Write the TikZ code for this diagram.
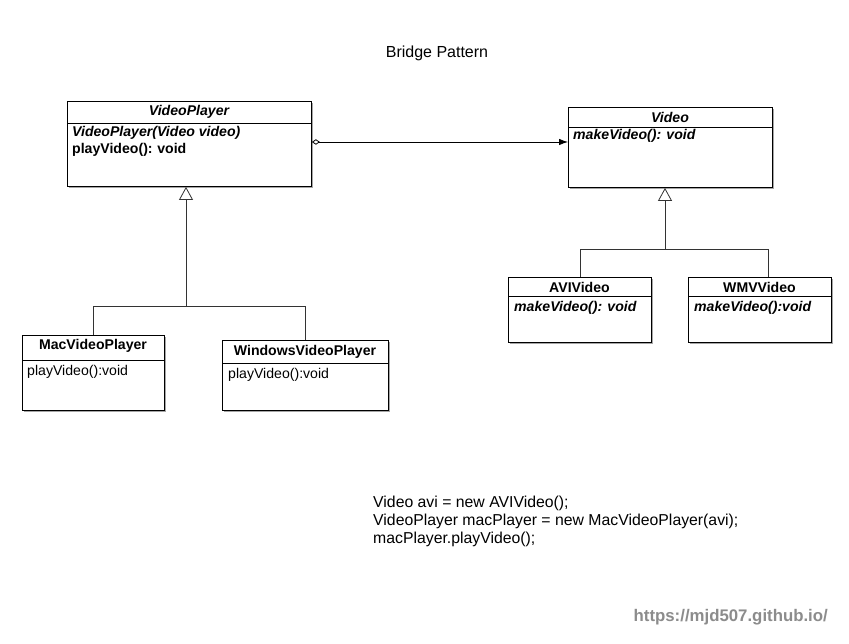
\documentclass[tikz,border=0pt]{standalone}
\usepackage{fontspec}
\setmainfont{Liberation Sans}
\usetikzlibrary{arrows.meta,shadows}
\begin{document}
\begin{tikzpicture}[x=1pt,y=-1pt,
  cls/.style={draw, line width=0.9pt, anchor=north west, inner sep=0pt, fill=white,
    drop shadow={shadow xshift=1.3pt, shadow yshift=-1.3pt, opacity=0.35, fill=black}},
  txt/.style={font=\fontsize{14.1}{16}\selectfont, inner sep=0pt},
  hdr/.style={txt, font=\fontsize{14.1}{16}\selectfont\bfseries},
  hdri/.style={txt, font=\fontsize{14.1}{16}\selectfont\bfseries\itshape},
  mem/.style={txt, anchor=west},
  memb/.style={mem, font=\fontsize{14.1}{16}\selectfont\bfseries},
  membi/.style={mem, font=\fontsize{14.1}{16}\selectfont\bfseries\itshape},
  inhline/.style={draw=black!80, line width=0.8pt},
  inh/.style={inhline, -{Triangle[open, length=13pt, width=14pt]}},
  agg/.style={draw=black, line width=0.8pt, {Diamond[open, length=8pt, width=5.5pt]}-{Latex[length=9pt, width=6.5pt]}}
]
\useasboundingbox (0,0) rectangle (849,644);
\fill[white] (0,0) rectangle (849,644);

% title
\node[font=\fontsize{16}{18}\selectfont] (title) at (437,53) {Bridge Pattern};

% VideoPlayer
\node[cls, minimum width=244pt, minimum height=85pt] (vp) at (67,101) {};
\draw[line width=0.9pt] (67,123) -- (311,123);
\node[hdri] (vpn) at (189,112) {VideoPlayer};
\node[membi] (vpm1) at (72,133) {VideoPlayer(Video video)};
\node[memb] (vpm2) at (72,150) {playVideo():\,\,void};

% Video
\node[cls, minimum width=204pt, minimum height=80pt] (vid) at (568,107) {};
\draw[line width=0.9pt] (568,127) -- (772,127);
\node[hdri] (vidn) at (670,117) {Video};
\node[membi] (vidm1) at (573,136) {makeVideo(): void};

% MacVideoPlayer
\node[cls, minimum width=142pt, minimum height=75pt] (mac) at (22,335) {};
\draw[line width=0.9pt] (22,360) -- (164,360);
\node[hdr] (macn) at (93,346) {MacVideoPlayer};
\node[mem] (macm1) at (27,372) {playVideo():void};

% WindowsVideoPlayer
\node[cls, minimum width=166pt, minimum height=70pt] (win) at (222,340) {};
\draw[line width=0.9pt] (222,363) -- (388,363);
\node[hdr] (winn) at (305,352) {WindowsVideoPlayer};
\node[mem] (winm1) at (228,375) {playVideo():void};

% AVIVideo
\node[cls, minimum width=143pt, minimum height=65pt] (avi) at (508,277) {};
\draw[line width=0.9pt] (508,296) -- (651,296);
\node[hdr] (avin) at (579.5,287) {AVIVideo};
\node[membi] (avim1) at (514,308) {makeVideo(): void};

% WMVVideo
\node[cls, minimum width=143pt, minimum height=65pt] (wmv) at (688,277) {};
\draw[line width=0.9pt] (688,296) -- (831,296);
\node[hdr] (wmvn) at (759.5,287) {WMVVideo};
\node[membi] (wmvm1) at (694,308) {makeVideo():void};

% aggregation
\draw[agg] (vp.east |- 0,142) -- (vid.west |- 0,142);

% inheritance VideoPlayer
\coordinate (j1) at (186,306);
\draw[inh] (j1) -- (j1 |- vp.south);
\draw[inhline] (mac.north) |- (win.north |- j1) -- (win.north);

% inheritance Video
\coordinate (j2) at (665,249);
\coordinate (w2) at (768,249);
\draw[inh] (j2) -- (j2 |- vid.south);
\draw[inhline] (avi.north) |- (w2) -- (w2 |- wmv.north);

% code
\node[anchor=west, align=left, inner sep=0pt, font=\fontsize{15.8}{18}\selectfont] (code) at (373,521)
  {Video avi = new AVIVideo();\\VideoPlayer macPlayer = new MacVideoPlayer(avi);\\macPlayer.playVideo();};

% url
\node[anchor=east, inner sep=0pt, text=black!45, font=\fontsize{16.8}{20}\selectfont\bfseries] (url) at (828,617) {https://mjd507.github.io/};
\end{tikzpicture}
\end{document}
